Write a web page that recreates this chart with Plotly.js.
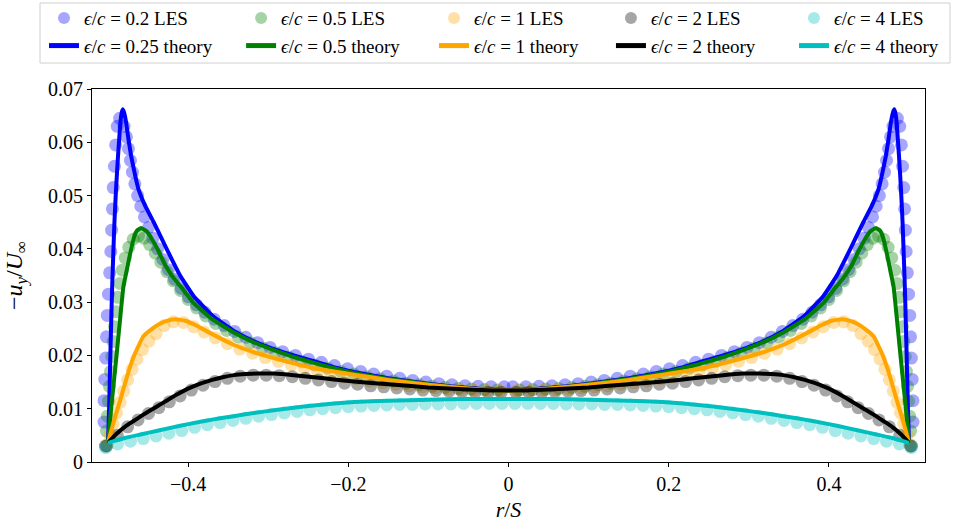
<!DOCTYPE html>
<html>
<head>
<meta charset="utf-8">
<script src="https://cdn.plot.ly/plotly-3.0.1.min.js"></script>
<style>html,body{margin:0;padding:0;background:#fff;}#chart{width:953px;height:530px;}</style>
</head>
<body>
<div id="chart"></div>
<script>
// ---------- axis ticks ----------
const xTickVals = [-0.4, -0.2, 0, 0.2, 0.4];
const xTickText = ['\u22120.4', '\u22120.2', '0', '0.2', '0.4'];
const yTickVals = [0, 0.01, 0.02, 0.03, 0.04, 0.05, 0.06, 0.07];
const yTickText = ['0', '0.01', '0.02', '0.03', '0.04', '0.05', '0.06', '0.07'];

// ---------- legend labels ----------
const lesNames = ['<i>\u03f5</i>/<i>c</i> = 0.2 LES', '<i>\u03f5</i>/<i>c</i> = 0.5 LES', '<i>\u03f5</i>/<i>c</i> = 1 LES', '<i>\u03f5</i>/<i>c</i> = 2 LES', '<i>\u03f5</i>/<i>c</i> = 4 LES'];
const theoryNames = ['<i>\u03f5</i>/<i>c</i> = 0.25 theory', '<i>\u03f5</i>/<i>c</i> = 0.5 theory', '<i>\u03f5</i>/<i>c</i> = 1 theory', '<i>\u03f5</i>/<i>c</i> = 2 theory', '<i>\u03f5</i>/<i>c</i> = 4 theory'];

// ---------- LES data (eps/c = 0.2) ----------
const les02X = [-0.5030, -0.5050, -0.5050, -0.5040, -0.5030, -0.5020, -0.5010, -0.4995, -0.4980, -0.4965, -0.4955, -0.4945, -0.4935, -0.4920, -0.4905, -0.4885, -0.4855, -0.4800, -0.4770, -0.4745, -0.4720, -0.4695, -0.4665, -0.4630, -0.4590, -0.4545, -0.4495, -0.4440, -0.4380, -0.4315, -0.4245, -0.4170, -0.4085, -0.3995, -0.3895, -0.3790, -0.3675, -0.3550, -0.3420, -0.3280, -0.3132, -0.2978, -0.2820, -0.2660, -0.2498, -0.2336, -0.2173, -0.2010, -0.1847, -0.1684, -0.1521, -0.1358, -0.1195, -0.1032, -0.0869, -0.0706, -0.0543, -0.0380, -0.0217, -0.0054,
  0.0054, 0.0217, 0.0380, 0.0543, 0.0706, 0.0869, 0.1032, 0.1195, 0.1358, 0.1521, 0.1684, 0.1847, 0.2010, 0.2173, 0.2336, 0.2498, 0.2660, 0.2820, 0.2978, 0.3132, 0.3280, 0.3420, 0.3550, 0.3675, 0.3790, 0.3895, 0.3995, 0.4085, 0.4170, 0.4245, 0.4315, 0.4380, 0.4440, 0.4495, 0.4545, 0.4590, 0.4630, 0.4665, 0.4695, 0.4720, 0.4745, 0.4770, 0.4800, 0.4855, 0.4885, 0.4905, 0.4920, 0.4935, 0.4945, 0.4955, 0.4965, 0.4980, 0.4995, 0.5010, 0.5020, 0.5030, 0.5040, 0.5050, 0.5050, 0.5030];
const les02Y = [0.0030, 0.0075, 0.0115, 0.0155, 0.0195, 0.0235, 0.0275, 0.0315, 0.0355, 0.0395, 0.0435, 0.0475, 0.0515, 0.0555, 0.0595, 0.0630, 0.0645, 0.0630, 0.0610, 0.0588, 0.0566, 0.0544, 0.0522, 0.0500, 0.0480, 0.0460, 0.0440, 0.0420, 0.0400, 0.0380, 0.0361, 0.0343, 0.0326, 0.0310, 0.0295, 0.0281, 0.0268, 0.0256, 0.0245, 0.0234, 0.0224, 0.0215, 0.0207, 0.0200, 0.0193, 0.0187, 0.0181, 0.0175, 0.0170, 0.0165, 0.0161, 0.0157, 0.0153, 0.0150, 0.0147, 0.0145, 0.0143, 0.0142, 0.0141, 0.0141,
  0.0141, 0.0141, 0.0142, 0.0143, 0.0145, 0.0147, 0.0150, 0.0153, 0.0157, 0.0161, 0.0165, 0.0170, 0.0175, 0.0181, 0.0187, 0.0193, 0.0200, 0.0207, 0.0215, 0.0224, 0.0234, 0.0245, 0.0256, 0.0268, 0.0281, 0.0295, 0.0310, 0.0326, 0.0343, 0.0361, 0.0380, 0.0400, 0.0420, 0.0440, 0.0460, 0.0480, 0.0500, 0.0522, 0.0544, 0.0566, 0.0588, 0.0610, 0.0630, 0.0645, 0.0630, 0.0595, 0.0555, 0.0515, 0.0475, 0.0435, 0.0395, 0.0355, 0.0315, 0.0275, 0.0235, 0.0195, 0.0155, 0.0115, 0.0075, 0.0030];

// ---------- LES data (eps/c = 0.5) ----------
const les05X = [-0.5030, -0.5020, -0.5008, -0.4995, -0.4982, -0.4968, -0.4953, -0.4937, -0.4920, -0.4900, -0.4878, -0.4852, -0.4822, -0.4785, -0.4740, -0.4685, -0.4620, -0.4550, -0.4480, -0.4410, -0.4340, -0.4265, -0.4185, -0.4095, -0.4000, -0.3895, -0.3780, -0.3655, -0.3520, -0.3375, -0.3225, -0.3068, -0.2908, -0.2746, -0.2584, -0.2421, -0.2258, -0.2095, -0.1932, -0.1769, -0.1606, -0.1443, -0.1280, -0.1117, -0.0954, -0.0791, -0.0628, -0.0465, -0.0302, -0.0139,
  0.0139, 0.0302, 0.0465, 0.0628, 0.0791, 0.0954, 0.1117, 0.1280, 0.1443, 0.1606, 0.1769, 0.1932, 0.2095, 0.2258, 0.2421, 0.2584, 0.2746, 0.2908, 0.3068, 0.3225, 0.3375, 0.3520, 0.3655, 0.3780, 0.3895, 0.4000, 0.4095, 0.4185, 0.4265, 0.4340, 0.4410, 0.4480, 0.4550, 0.4620, 0.4685, 0.4740, 0.4785, 0.4822, 0.4852, 0.4878, 0.4900, 0.4920, 0.4937, 0.4953, 0.4968, 0.4982, 0.4995, 0.5008, 0.5020, 0.5030];
const les05Y = [0.0030, 0.0058, 0.0086, 0.0114, 0.0142, 0.0170, 0.0198, 0.0226, 0.0254, 0.0282, 0.0309, 0.0335, 0.0360, 0.0383, 0.0403, 0.0418, 0.0424, 0.0420, 0.0408, 0.0392, 0.0375, 0.0357, 0.0340, 0.0322, 0.0305, 0.0289, 0.0274, 0.0260, 0.0247, 0.0235, 0.0224, 0.0214, 0.0205, 0.0197, 0.0189, 0.0182, 0.0176, 0.0170, 0.0165, 0.0160, 0.0156, 0.0152, 0.0148, 0.0145, 0.0142, 0.0140, 0.0138, 0.0137, 0.0136, 0.0135,
  0.0135, 0.0136, 0.0137, 0.0138, 0.0140, 0.0142, 0.0145, 0.0148, 0.0152, 0.0156, 0.0160, 0.0165, 0.0170, 0.0176, 0.0182, 0.0189, 0.0197, 0.0205, 0.0214, 0.0224, 0.0235, 0.0247, 0.0260, 0.0274, 0.0289, 0.0305, 0.0322, 0.0340, 0.0357, 0.0375, 0.0392, 0.0408, 0.0420, 0.0424, 0.0418, 0.0403, 0.0383, 0.0360, 0.0335, 0.0309, 0.0282, 0.0254, 0.0226, 0.0198, 0.0170, 0.0142, 0.0114, 0.0086, 0.0058, 0.0030];

// ---------- LES data (eps/c = 1) ----------
const les1X = [-0.5015, -0.4975, -0.4935, -0.4895, -0.4850, -0.4805, -0.4755, -0.4700, -0.4640, -0.4570, -0.4490, -0.4400, -0.4300, -0.4185, -0.4060, -0.3930, -0.3800, -0.3660, -0.3510, -0.3355, -0.3195, -0.3035, -0.2872, -0.2710, -0.2548, -0.2385, -0.2222, -0.2059, -0.1896, -0.1733, -0.1570, -0.1407, -0.1244, -0.1081, -0.0918, -0.0755, -0.0592, -0.0429, -0.0266, -0.0103,
  0.0103, 0.0266, 0.0429, 0.0592, 0.0755, 0.0918, 0.1081, 0.1244, 0.1407, 0.1570, 0.1733, 0.1896, 0.2059, 0.2222, 0.2385, 0.2548, 0.2710, 0.2872, 0.3035, 0.3195, 0.3355, 0.3510, 0.3660, 0.3800, 0.3930, 0.4060, 0.4185, 0.4300, 0.4400, 0.4490, 0.4570, 0.4640, 0.4700, 0.4755, 0.4805, 0.4850, 0.4895, 0.4935, 0.4975, 0.5015];
const les1Y = [0.0033, 0.0052, 0.0072, 0.0092, 0.0112, 0.0133, 0.0154, 0.0174, 0.0193, 0.0211, 0.0227, 0.0241, 0.0256, 0.0263, 0.0262, 0.0254, 0.0244, 0.0233, 0.0222, 0.0212, 0.0204, 0.0196, 0.0189, 0.0182, 0.0176, 0.0170, 0.0165, 0.0160, 0.0156, 0.0152, 0.0149, 0.0146, 0.0143, 0.0141, 0.0139, 0.0137, 0.0136, 0.0135, 0.0134, 0.0134,
  0.0134, 0.0134, 0.0135, 0.0136, 0.0137, 0.0139, 0.0141, 0.0143, 0.0146, 0.0149, 0.0152, 0.0156, 0.0160, 0.0165, 0.0170, 0.0176, 0.0182, 0.0189, 0.0196, 0.0204, 0.0212, 0.0222, 0.0233, 0.0244, 0.0254, 0.0262, 0.0263, 0.0256, 0.0241, 0.0227, 0.0211, 0.0193, 0.0174, 0.0154, 0.0133, 0.0112, 0.0092, 0.0072, 0.0052, 0.0033];

// ---------- LES data (eps/c = 2) ----------
const les2X = [-0.5015, -0.4885, -0.4755, -0.4625, -0.4495, -0.4365, -0.4235, -0.4100, -0.3960, -0.3815, -0.3665, -0.3510, -0.3350, -0.3188, -0.3025, -0.2862, -0.2699, -0.2536, -0.2373, -0.2210, -0.2047, -0.1884, -0.1721, -0.1558, -0.1395, -0.1232, -0.1069, -0.0906, -0.0743, -0.0580, -0.0417, -0.0254, -0.0091,
  0.0091, 0.0254, 0.0417, 0.0580, 0.0743, 0.0906, 0.1069, 0.1232, 0.1395, 0.1558, 0.1721, 0.1884, 0.2047, 0.2210, 0.2373, 0.2536, 0.2699, 0.2862, 0.3025, 0.3188, 0.3350, 0.3510, 0.3665, 0.3815, 0.3960, 0.4100, 0.4235, 0.4365, 0.4495, 0.4625, 0.4755, 0.4885, 0.5015];
const les2Y = [0.0030, 0.0050, 0.0066, 0.0079, 0.0091, 0.0102, 0.0113, 0.0124, 0.0135, 0.0144, 0.0151, 0.0157, 0.0161, 0.0163, 0.0163, 0.0162, 0.0160, 0.0157, 0.0154, 0.0151, 0.0148, 0.0146, 0.0143, 0.0141, 0.0139, 0.0137, 0.0135, 0.0134, 0.0133, 0.0132, 0.0131, 0.0131, 0.0131,
  0.0131, 0.0131, 0.0131, 0.0132, 0.0133, 0.0134, 0.0135, 0.0137, 0.0139, 0.0141, 0.0143, 0.0146, 0.0148, 0.0151, 0.0154, 0.0157, 0.0160, 0.0162, 0.0163, 0.0163, 0.0161, 0.0157, 0.0151, 0.0144, 0.0135, 0.0124, 0.0113, 0.0102, 0.0091, 0.0079, 0.0066, 0.0050, 0.0030];

// ---------- LES data (eps/c = 4) ----------
const les4X = [-0.503, -0.488, -0.472, -0.456, -0.440, -0.424, -0.408, -0.392, -0.376, -0.360, -0.344, -0.328, -0.312, -0.296, -0.280, -0.264, -0.248, -0.232, -0.216, -0.200, -0.184, -0.168, -0.152, -0.136, -0.120, -0.104, -0.088, -0.072, -0.056, -0.040, -0.024, -0.008,
  0.008, 0.024, 0.040, 0.056, 0.072, 0.088, 0.104, 0.120, 0.136, 0.152, 0.168, 0.184, 0.200, 0.216, 0.232, 0.248, 0.264, 0.280, 0.296, 0.312, 0.328, 0.344, 0.360, 0.376, 0.392, 0.408, 0.424, 0.440, 0.456, 0.472, 0.488, 0.503];
const les4Y = [0.0027, 0.0034, 0.0039, 0.0044, 0.0049, 0.0054, 0.0059, 0.0065, 0.0070, 0.0074, 0.0078, 0.0082, 0.0086, 0.0089, 0.0092, 0.0095, 0.0098, 0.0100, 0.0102, 0.0104, 0.0105, 0.0106, 0.0107, 0.0108, 0.0108, 0.0109, 0.0109, 0.0109, 0.0110, 0.0110, 0.0110, 0.0110,
  0.0110, 0.0110, 0.0110, 0.0110, 0.0109, 0.0109, 0.0109, 0.0108, 0.0108, 0.0107, 0.0106, 0.0105, 0.0104, 0.0102, 0.0100, 0.0098, 0.0095, 0.0092, 0.0089, 0.0086, 0.0082, 0.0078, 0.0074, 0.0070, 0.0065, 0.0059, 0.0054, 0.0049, 0.0044, 0.0039, 0.0034, 0.0027];

// ---------- theory (eps/c = 0.25) ----------
const th025X = [-0.5, -0.4985, -0.4975, -0.4965, -0.4954, -0.4945, -0.4932, -0.492, -0.49, -0.4875, -0.4845, -0.483, -0.4816, -0.48, -0.4775, -0.4745, -0.4712, -0.467, -0.462, -0.4537, -0.443, -0.433, -0.4225, -0.41, -0.393, -0.37, -0.343, -0.32, -0.293, -0.268, -0.243, -0.218, -0.193, -0.15, -0.1, -0.05, 0,
  0.05, 0.1, 0.15, 0.193, 0.218, 0.243, 0.268, 0.293, 0.32, 0.343, 0.37, 0.393, 0.41, 0.4225, 0.433, 0.443, 0.4537, 0.462, 0.467, 0.4712, 0.4745, 0.4775, 0.48, 0.4816, 0.483, 0.4845, 0.4875, 0.49, 0.492, 0.4932, 0.4945, 0.4954, 0.4965, 0.4975, 0.4985, 0.5];
const th025Y = [0.0036, 0.0110, 0.0173, 0.0235, 0.0298, 0.0344, 0.0400, 0.0450, 0.0512, 0.0575, 0.0638, 0.0655, 0.0662, 0.0656, 0.0638, 0.0606, 0.0575, 0.0544, 0.0512, 0.0481, 0.0450, 0.0419, 0.0387, 0.0350, 0.0311, 0.0275, 0.0246, 0.0228, 0.0212, 0.0200, 0.0189, 0.0178, 0.0169, 0.0157, 0.0147, 0.0139, 0.0135,
  0.0139, 0.0147, 0.0157, 0.0169, 0.0178, 0.0189, 0.0200, 0.0212, 0.0228, 0.0246, 0.0275, 0.0311, 0.0350, 0.0387, 0.0419, 0.0450, 0.0481, 0.0512, 0.0544, 0.0575, 0.0606, 0.0638, 0.0656, 0.0662, 0.0655, 0.0638, 0.0575, 0.0512, 0.0450, 0.0400, 0.0344, 0.0298, 0.0235, 0.0173, 0.0110, 0.0036];

// ---------- theory (eps/c = 0.5) ----------
const th05X = [-0.5, -0.4975, -0.4933, -0.4891, -0.485, -0.4808, -0.4766, -0.4725, -0.468, -0.464, -0.4587, -0.4517, -0.4454, -0.437, -0.4288, -0.418, -0.4075, -0.393, -0.37, -0.343, -0.32, -0.293, -0.268, -0.243, -0.218, -0.193, -0.15, -0.1, -0.05, 0,
  0.05, 0.1, 0.15, 0.193, 0.218, 0.243, 0.268, 0.293, 0.32, 0.343, 0.37, 0.393, 0.4075, 0.418, 0.4288, 0.437, 0.4454, 0.4517, 0.4587, 0.464, 0.468, 0.4725, 0.4766, 0.4808, 0.485, 0.4891, 0.4933, 0.4975, 0.5];
const th05Y = [0.0036, 0.0079, 0.0142, 0.0204, 0.0267, 0.0329, 0.0360, 0.0390, 0.0419, 0.0434, 0.0439, 0.0433, 0.0419, 0.0396, 0.0370, 0.0345, 0.0326, 0.0298, 0.0268, 0.0243, 0.0226, 0.0210, 0.0197, 0.0186, 0.0176, 0.0167, 0.0156, 0.0146, 0.0138, 0.0134,
  0.0138, 0.0146, 0.0156, 0.0167, 0.0176, 0.0186, 0.0197, 0.0210, 0.0226, 0.0243, 0.0268, 0.0298, 0.0326, 0.0345, 0.0370, 0.0396, 0.0419, 0.0433, 0.0439, 0.0434, 0.0419, 0.0390, 0.0360, 0.0329, 0.0267, 0.0204, 0.0142, 0.0079, 0.0036];

// ---------- theory (eps/c = 1) ----------
const th1X = [-0.5, -0.4954, -0.49, -0.485, -0.4808, -0.4737, -0.4662, -0.4558, -0.4475, -0.437, -0.4266, -0.4162, -0.4037, -0.391, -0.37, -0.343, -0.318, -0.293, -0.268, -0.243, -0.218, -0.193, -0.15, -0.1, -0.05, 0,
  0.05, 0.1, 0.15, 0.193, 0.218, 0.243, 0.268, 0.293, 0.318, 0.343, 0.37, 0.391, 0.4037, 0.4162, 0.4266, 0.437, 0.4475, 0.4558, 0.4662, 0.4737, 0.4808, 0.485, 0.49, 0.4954, 0.5];
const th1Y = [0.0036, 0.0062, 0.0090, 0.0115, 0.0137, 0.0173, 0.0204, 0.0236, 0.0247, 0.0258, 0.0265, 0.0268, 0.0265, 0.0257, 0.0240, 0.0220, 0.0206, 0.0195, 0.0185, 0.0176, 0.0170, 0.0164, 0.0154, 0.0145, 0.0138, 0.0134,
  0.0138, 0.0145, 0.0154, 0.0164, 0.0170, 0.0176, 0.0185, 0.0195, 0.0206, 0.0220, 0.0240, 0.0257, 0.0265, 0.0268, 0.0265, 0.0258, 0.0247, 0.0236, 0.0204, 0.0173, 0.0137, 0.0115, 0.0090, 0.0062, 0.0036];

// ---------- theory (eps/c = 2) ----------
const th2X = [-0.5, -0.49, -0.479, -0.468, -0.458, -0.447, -0.437, -0.426, -0.416, -0.405, -0.395, -0.383, -0.37, -0.357, -0.343, -0.328, -0.313, -0.293, -0.268, -0.243, -0.218, -0.193, -0.15, -0.1, -0.05, 0,
  0.05, 0.1, 0.15, 0.193, 0.218, 0.243, 0.268, 0.293, 0.313, 0.328, 0.343, 0.357, 0.37, 0.383, 0.395, 0.405, 0.416, 0.426, 0.437, 0.447, 0.458, 0.468, 0.479, 0.49, 0.5];
const th2Y = [0.0036, 0.0052, 0.0066, 0.0077, 0.0087, 0.0097, 0.0106, 0.0116, 0.0125, 0.0134, 0.0141, 0.0148, 0.0154, 0.0159, 0.0163, 0.0165, 0.0166, 0.0166, 0.0163, 0.0159, 0.0155, 0.0151, 0.0146, 0.0140, 0.0136, 0.0134,
  0.0136, 0.0140, 0.0146, 0.0151, 0.0155, 0.0159, 0.0163, 0.0166, 0.0166, 0.0165, 0.0163, 0.0159, 0.0154, 0.0148, 0.0141, 0.0134, 0.0125, 0.0116, 0.0106, 0.0097, 0.0087, 0.0077, 0.0066, 0.0052, 0.0036];

// ---------- theory (eps/c = 4) ----------
const th4X = [-0.5, -0.479, -0.458, -0.437, -0.41, -0.383, -0.36, -0.343, -0.318, -0.293, -0.268, -0.243, -0.218, -0.193, -0.15, -0.1, -0.05, 0,
  0.05, 0.1, 0.15, 0.193, 0.218, 0.243, 0.268, 0.293, 0.318, 0.343, 0.36, 0.383, 0.41, 0.437, 0.458, 0.479, 0.5];
const th4Y = [0.0036, 0.0045, 0.0052, 0.0059, 0.0068, 0.0076, 0.0082, 0.0086, 0.0092, 0.0097, 0.0102, 0.0106, 0.0110, 0.01125, 0.0115, 0.0117, 0.0118, 0.0118,
  0.0118, 0.0117, 0.0115, 0.01125, 0.0110, 0.0106, 0.0102, 0.0097, 0.0092, 0.0086, 0.0082, 0.0076, 0.0068, 0.0059, 0.0052, 0.0045, 0.0036];

// ---------- build ----------
const colors = ['#0000ff', '#008000', '#ffa500', '#000000', '#00bfbf'];
const lesX = [les02X, les05X, les1X, les2X, les4X];
const lesY = [les02Y, les05Y, les1Y, les2Y, les4Y];
const thX = [th025X, th05X, th1X, th2X, th4X];
const thY = [th025Y, th05Y, th1Y, th2Y, th4Y];
const legendIds = ['legend', 'legend2', 'legend3', 'legend4', 'legend5'];

const traces = [];
for (let i = 0; i < 5; i++) {
  traces.push({
    x: lesX[i], y: lesY[i], type: 'scatter', mode: 'markers', name: lesNames[i],
    legend: legendIds[i],
    marker: {color: colors[i], opacity: 0.35, size: 13, line: {width: 0}},
    hoverinfo: 'skip'
  });
}
for (let i = 0; i < 5; i++) {
  traces.push({
    x: thX[i], y: thY[i], type: 'scatter', mode: 'lines', name: theoryNames[i],
    legend: legendIds[i],
    line: {color: colors[i], width: 4, shape: 'spline', smoothing: 0.35},
    hoverinfo: 'skip'
  });
}

const fontFam = "'Liberation Serif', 'DejaVu Serif', serif";
const legendFont = {family: fontFam, size: 19, color: '#000'};
const legendXs = [-0.0576, 0.1790, 0.4106, 0.6230, 0.8427];

const layout = {
  width: 953, height: 530,
  margin: {l: 92, r: 28, t: 89, b: 68, autoexpand: false},
  paper_bgcolor: '#ffffff', plot_bgcolor: '#ffffff',
  font: {family: fontFam, size: 20, color: '#000000'},
  showlegend: true,
  hovermode: false,
  xaxis: {
    range: [-0.52, 0.52], tickvals: xTickVals, ticktext: xTickText,
    ticks: 'outside', ticklen: 4, tickwidth: 1, tickcolor: '#000',
    showline: true, mirror: true, linecolor: '#000', linewidth: 1,
    showgrid: false, zeroline: false,
    tickfont: {family: fontFam, size: 20},
    title: {text: '<i>r</i>/<i>S</i>', font: {family: fontFam, size: 22}, standoff: 7}
  },
  yaxis: {
    range: [0, 0.07], tickvals: yTickVals, ticktext: yTickText,
    ticks: 'outside', ticklen: 4, tickwidth: 1, tickcolor: '#000',
    showline: true, mirror: true, linecolor: '#000', linewidth: 1,
    showgrid: false, zeroline: false,
    tickfont: {family: fontFam, size: 20},
    title: {text: '\u2212<i>u</i><sub><i>y</i></sub>/<i>U</i><sub>\u221e</sub>', font: {family: fontFam, size: 24}, standoff: 18}
  },
  shapes: [{
    type: 'rect', xref: 'paper', yref: 'paper',
    x0: -0.0624, x1: 1.030, y0: 1.0697, y1: 1.2306,
    line: {color: '#d0d0d0', width: 1}, fillcolor: 'rgba(0,0,0,0)', layer: 'below'
  }]
};
for (let i = 0; i < 5; i++) {
  layout[legendIds[i]] = {
    orientation: 'v', x: legendXs[i], xanchor: 'left', y: 1.2412, yanchor: 'top',
    bgcolor: 'rgba(0,0,0,0)', borderwidth: 0,
    font: legendFont, traceorder: 'normal', itemsizing: 'constant'
  };
}

Plotly.newPlot('chart', traces, layout, {staticPlot: true, displayModeBar: false});
</script>
</body>
</html>
